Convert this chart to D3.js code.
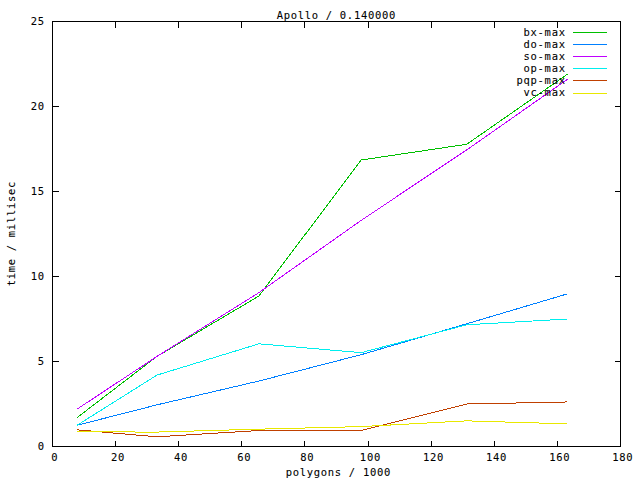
<!DOCTYPE html>
<html><head><meta charset="utf-8">
<script src="https://cdn.jsdelivr.net/npm/d3@7"></script>
<style>
html,body{margin:0;padding:0;background:#fff;}
text{font-family:"DejaVu Sans Mono",monospace;font-size:10.5px;letter-spacing:0.7px;fill:#000;stroke:#000;stroke-width:0.08px;}
</style></head>
<body><svg id="c" width="640" height="480"></svg>
<script>
const title = "Apollo / 0.140000";
const xLabel = "polygons / 1000";
const yLabel = "time / millisec";
const polygons = [7.8, 33.1, 65.4, 97.8, 131.3, 163.2];
const seriesNames = ["bx-max","do-max","so-max","op-max","pqp-max","vc-max"];
const seriesColors = ["#00c000","#0080ff","#c000ff","#00eeee","#c04000","#e8e800"];
const bxMax = [1.7, 5.3, 8.85, 16.85, 17.78, 21.9];
const doMax = [1.25, 2.45, 3.85, 5.4, 7.22, 8.98];
const soMax = [2.2, 5.3, 9.05, 13.3, 17.45, 21.6];
const opMax = [1.25, 4.2, 6.04, 5.52, 7.16, 7.5];
const pqpMax = [0.98, 0.57, 0.94, 0.94, 2.5, 2.62];
const vcMax = [0.86, 0.85, 1.02, 1.17, 1.51, 1.33];
const seriesValues = [bxMax, doMax, soMax, opMax, pqpMax, vcMax];
const xTicks = [0,20,40,60,80,100,120,140,160,180];
const yTicks = [0,5,10,15,20,25];

const svg = d3.select("#c");
const L=52.5, R=620.5, T=21.5, B=446.5;
const ls = 0.7;
const x = d3.scaleLinear().domain([0,180]).range([L,R]);
const y = d3.scaleLinear().domain([0,25]).range([B,T]);

svg.append("rect").attr("x",L).attr("y",T).attr("width",R-L).attr("height",B-T)
  .attr("fill","none").attr("stroke","#000").attr("stroke-width",1).attr("shape-rendering","crispEdges");

const tl = 6;
const g = svg.append("g").attr("stroke","#000").attr("shape-rendering","crispEdges");
xTicks.forEach(t=>{
  g.append("line").attr("x1",x(t)).attr("x2",x(t)).attr("y1",B).attr("y2",B-tl);
  g.append("line").attr("x1",x(t)).attr("x2",x(t)).attr("y1",T).attr("y2",T+tl);
});
yTicks.forEach(t=>{
  g.append("line").attr("y1",y(t)).attr("y2",y(t)).attr("x1",L).attr("x2",L+tl);
  g.append("line").attr("y1",y(t)).attr("y2",y(t)).attr("x1",R).attr("x2",R-tl);
});
svg.append("g").selectAll("text").data(xTicks).join("text")
  .attr("x",d=>x(d)+2+ls/2).attr("y",461).attr("text-anchor","middle").text(d=>d);
svg.append("g").selectAll("text").data(yTicks).join("text")
  .attr("x",44+ls).attr("y",d=>y(d)+3.5).attr("text-anchor","end").text(d=>d);

svg.append("text").attr("x",336+ls/2).attr("y",19).attr("text-anchor","middle").text(title);
svg.append("text").attr("x",338+ls/2).attr("y",476).attr("text-anchor","middle").text(xLabel);
svg.append("text").attr("transform",`translate(15,${234-ls/2}) rotate(-90)`).attr("text-anchor","middle").text(yLabel);

const line = d3.line().x((d,i)=>x(polygons[i])).y(d=>y(d));
seriesValues.forEach((vals,k)=>{
  svg.append("path").datum(vals).attr("d",line).attr("fill","none")
    .attr("stroke",seriesColors[k]).attr("stroke-width",1).attr("shape-rendering","crispEdges");
});

seriesNames.forEach((n,k)=>{
  const yy = 32 + k*12.1;
  svg.append("text").attr("x",565+ls).attr("y",yy+3.8).attr("text-anchor","end").text(n);
  svg.append("rect").attr("x",573).attr("width",34).attr("y",Math.round(yy)).attr("height",1)
    .attr("fill",seriesColors[k]).attr("shape-rendering","crispEdges");
});
</script></body></html>
